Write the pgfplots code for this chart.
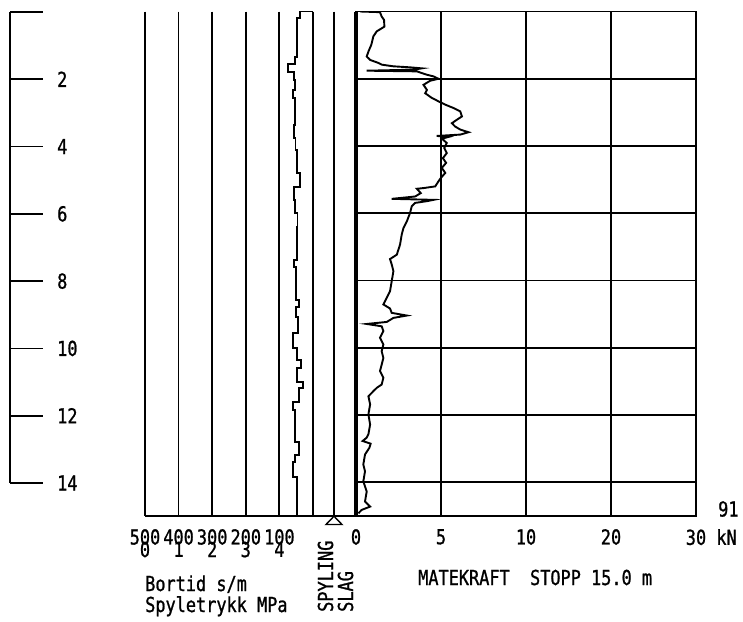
\documentclass[border=0pt]{standalone}
\usepackage{pgfplots}
\pgfplotsset{compat=1.18}
\usepackage{fontspec}
\newfontfamily\pf[FakeStretch=0.82,FakeBold=1]{DejaVu Sans Mono}
\newcommand\pfs{\pf\fontsize{20.6}{12}\selectfont}

\begin{document}
\begin{tikzpicture}[x=1pt,y=1pt]
\path[use as bounding box] (0,0) rectangle (743,621);

% depth scale on the left
\begin{axis}[at={(10pt,138pt)}, anchor=south west, scale only axis,
  width=33pt, height=471pt,
  xmin=0, xmax=1, ymin=0, ymax=14, y dir=reverse,
  axis x line=none, axis y line=left,
  axis line style={-, line width=1.8pt},
  xtick=\empty, ytick={0,2,...,14}, yticklabels={,2,4,6,8,10,12,14},
  tick align=inside, major tick length=33pt,
  tick style={line width=1.8pt, black},
  yticklabel style={font=\pfs, anchor=west, inner sep=0pt, xshift=47pt}]
\end{axis}

% bortid / spyletrykk panel
\begin{axis}[at={(145pt,105pt)}, anchor=south west, scale only axis,
  width=211pt, height=504.5pt,
  xmin=-128, xmax=500, ymin=0, ymax=15, x dir=reverse, y dir=reverse,
  axis x line=bottom, axis y line=none,
  axis line style={-, line width=1.8pt},
  xtick={-62.5,0,100,200,300,400,500},
  xticklabels={,,{100\\[-4pt]4},{200\\[-4pt]3},{300\\[-4pt]2},{400\\[-4pt]1},{500\\[-4pt]0}},
  ytick=\empty, xmajorgrids, grid style={line width=1.8pt, black},
  major tick length=0pt,
  xticklabel style={font=\pfs, align=center, inner sep=0pt, yshift=-13pt},
  clip=false]
\addplot[line width=1.9pt, black] coordinates {
  (0,0) (39,0) (39,0.19) (48,0.19) (48,1.35) (54,1.35) (54,1.56) (74,1.56)
  (74,1.80) (57,1.80) (57,2.04) (54,2.04) (54,2.33) (60,2.33) (60,2.57)
  (54,2.57) (54,3.37) (57,3.37) (57,3.75) (52,3.75) (52,4.12) (48,4.12)
  (48,4.80) (39,4.80) (39,5.22) (57,5.22) (57,5.60) (54,5.60) (54,5.99)
  (46,5.99) (46,6.41) (48,6.41) (48,7.39) (57,7.39) (57,7.60) (51,7.60)
  (51,8.58) (42,8.58) (42,8.79) (51,8.79) (51,9.08) (45,9.08) (45,9.56)
  (60,9.56) (60,10.01) (48,10.01) (48,10.36) (36,10.36) (36,10.60)
  (48,10.60) (48,11.02) (30,11.02) (30,11.19) (42,11.19) (42,11.61)
  (60,11.61) (60,11.85) (54,11.85) (54,12.80) (42,12.80) (42,13.19)
  (54,13.19) (54,13.40) (60,13.40) (60,13.84) (48,13.84) (48,15)
};
\addplot[only marks, mark=triangle, mark size=9.2pt,
  mark options={yscale=0.6, line width=1.4pt, fill=white}] coordinates {(-62.5,15.17)};
\end{axis}

% matekraft panel
\begin{axis}[at={(356pt,105pt)}, anchor=south west, scale only axis,
  width=340pt, height=504.5pt,
  xmin=0, xmax=20, ymin=0, ymax=15, y dir=reverse,
  axis line style={line width=1.8pt},
  xtick={0,5,10,15,20}, xticklabels={0,5,10,20,{30\rlap{ kN}}},
  ytick={0,2,...,14}, yticklabels={},
  grid=major, grid style={line width=1.8pt, black}, major tick length=0pt,
  extra x ticks={0}, extra x tick labels={},
  extra x tick style={grid style={line width=3.8pt, black}},
  xticklabel style={font=\pfs, inner sep=0pt, yshift=-13pt}]
\addplot[line width=1.9pt, black] coordinates {
  (0.24,0.00) (1.41,0.02) (1.51,0.15) (1.65,0.25) (1.67,0.45) (1.51,0.50)
  (1.22,0.59) (1.02,0.74) (0.90,0.99) (0.73,1.19) (0.63,1.34) (0.83,1.44)
  (1.32,1.53) (1.51,1.58) (2.20,1.63) (3.18,1.66) (3.87,1.69) (3.38,1.73)
  (0.63,1.76) (3.58,1.78) (4.17,1.88) (4.56,1.93) (4.85,2.00) (4.36,2.06)
  (3.97,2.18) (4.17,2.33) (4.07,2.43) (4.46,2.57) (4.85,2.67) (5.25,2.77)
  (5.74,2.87) (6.13,2.97) (6.23,3.12) (5.93,3.22) (5.64,3.32) (5.83,3.42)
  (6.13,3.51) (6.62,3.59) (6.13,3.66) (4.75,3.70) (5.44,3.73) (5.05,3.78)
  (5.34,3.91) (5.19,4.06) (5.34,4.21) (5.11,4.36) (5.30,4.50) (5.05,4.65)
  (5.25,4.80) (4.99,4.95) (4.85,5.05) (4.66,5.20) (3.97,5.25) (3.58,5.27)
  (3.81,5.40) (3.48,5.50) (2.10,5.57) (4.56,5.60) (4.17,5.64) (3.48,5.69)
  (3.28,5.79) (3.18,5.99) (2.99,6.24) (2.79,6.44) (2.69,6.63) (2.59,6.93)
  (2.40,7.23) (2.00,7.36) (2.10,7.52) (2.20,7.72) (2.10,8.02) (2.00,8.32)
  (1.81,8.51) (1.61,8.71) (2.00,8.83) (2.10,8.96) (2.99,9.04) (2.20,9.11)
  (1.81,9.23) (0.63,9.29) (1.51,9.36) (1.61,9.50) (1.41,9.70) (1.61,9.90)
  (1.51,10.10) (1.61,10.30) (1.51,10.50) (1.41,10.69) (1.61,10.89)
  (1.51,11.09) (1.22,11.19) (1.02,11.29) (0.73,11.44) (0.83,11.68)
  (0.73,11.98) (0.83,12.28) (0.73,12.57) (0.63,12.67) (0.39,12.77)
  (0.86,12.85) (0.79,12.97) (0.53,13.17) (0.43,13.47) (0.53,13.67)
  (0.43,13.97) (0.63,14.27) (0.53,14.57) (0.83,14.72) (0.33,14.82)
  (0.14,14.92)
};
\end{axis}

\node[font=\pfs, anchor=west, inner sep=0pt] at (718,112) {91};
\node[font=\pfs, anchor=base west, inner sep=0pt] at (145,30) {Bortid s/m};
\node[font=\pfs, anchor=base west, inner sep=0pt] at (145,9) {Spyletrykk MPa};
\node[font=\pfs, anchor=base west, inner sep=0pt, rotate=90] at (333,9) {SPYLING};
\node[font=\pfs, anchor=base west, inner sep=0pt, rotate=90] at (353,9) {SLAG};
\node[font=\pfs, anchor=base west, inner sep=0pt] at (418,36) {MATEKRAFT~~STOPP 15.0 m};
\end{tikzpicture}
\end{document}
